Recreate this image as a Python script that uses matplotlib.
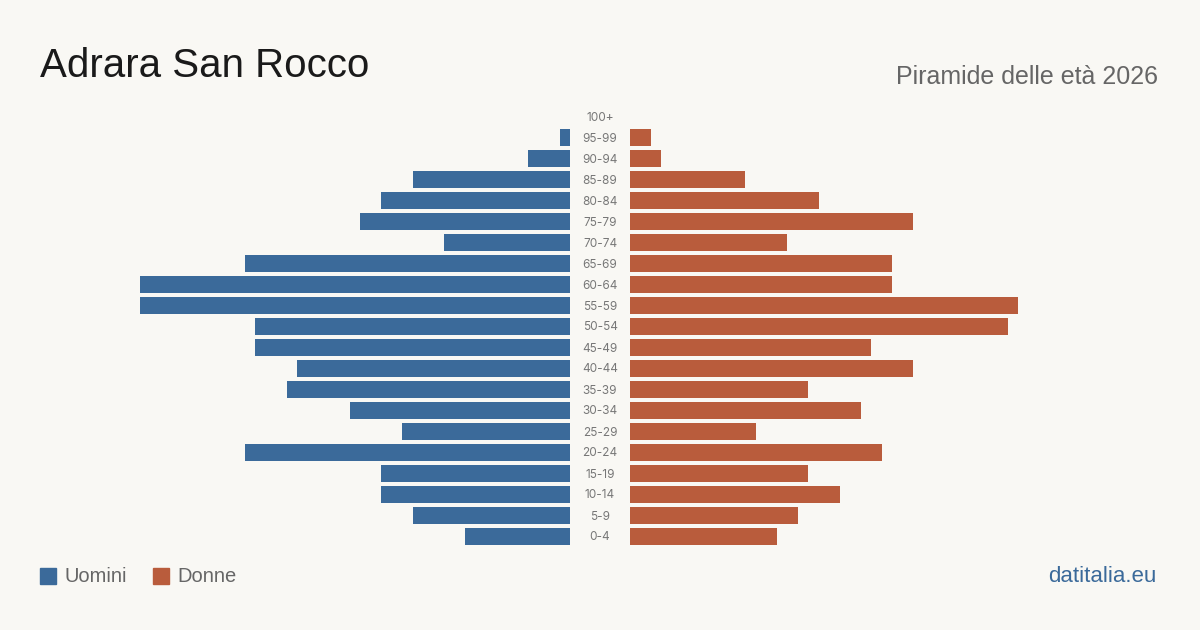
import matplotlib.pyplot as plt

# age classes, bottom to top
ages = ['0-4', '5-9', '10-14', '15-19', '20-24', '25-29', '30-34', '35-39',
        '40-44', '45-49', '50-54', '55-59', '60-64', '65-69', '70-74',
        '75-79', '80-84', '85-89', '90-94', '95-99', '100+']
men = [10, 15, 18, 18, 31, 16, 21, 27, 26, 30, 30, 41, 41, 31, 12,
       20, 18, 15, 4, 1, 0]
women = [14, 16, 20, 17, 24, 12, 22, 17, 27, 23, 36, 37, 25, 25, 15,
         27, 18, 11, 3, 2, 0]

bg = '#f9f8f4'
blue = '#3b6a9a'
orange = '#b95c3c'
W, H = 1200, 630

plt.rcParams['font.family'] = ['Liberation Sans', 'DejaVu Sans']
fig = plt.figure(figsize=(12, 6.3), dpi=100, facecolor=bg)

top_px, bot_px = 106, 547
bottom = 1 - bot_px / H
height = (bot_px - top_px) / H
axl = fig.add_axes([140 / W, bottom, 430 / W, height])
axr = fig.add_axes([630 / W, bottom, 430 / W, height])

ys = range(len(ages))
axl.barh(ys, men, height=17 / 21, color=blue)
axr.barh(ys, women, height=17 / 21, color=orange)
axl.set_xlim(41, 0)
axr.set_xlim(0, 41)
for ax in (axl, axr):
    ax.set_ylim(-0.5, len(ages) - 0.5)
    ax.axis('off')
    ax.set_facecolor('none')

# age labels in the middle
for i, a in enumerate(ages):
    yy = bottom + (i + 0.5) / len(ages) * height - 1 / H
    fig.text(600 / W, yy, a, ha='center', va='center', fontsize=8.5,
             color='#777777', family=['Inter', 'DejaVu Sans'])

fig.text(40 / W, 1 - 66 / H, 'Adrara San Rocco', fontsize=29, color='#1a1a1a',
         ha='left', va='center')
fig.text(1158 / W, 1 - 77 / H, 'Piramide delle età 2026', fontsize=18,
         color='#666666', ha='right', va='center')

# legend
fig.patches.append(plt.Rectangle((40 / W, 1 - 584 / H), 16 / W, 16 / H,
                                 transform=fig.transFigure, color=blue))
fig.text(64 / W, 1 - 576 / H, 'Uomini', fontsize=14.5, color='#666666', va='center')
fig.patches.append(plt.Rectangle((153 / W, 1 - 584 / H), 16 / W, 16 / H,
                                 transform=fig.transFigure, color=orange))
fig.text(177 / W, 1 - 576 / H, 'Donne', fontsize=14.5, color='#666666', va='center')

fig.text(1156 / W, 1 - 576 / H, 'datitalia.eu', fontsize=16, color=blue,
         ha='right', va='center')

fig.savefig('out.png', dpi=100, facecolor=bg)
